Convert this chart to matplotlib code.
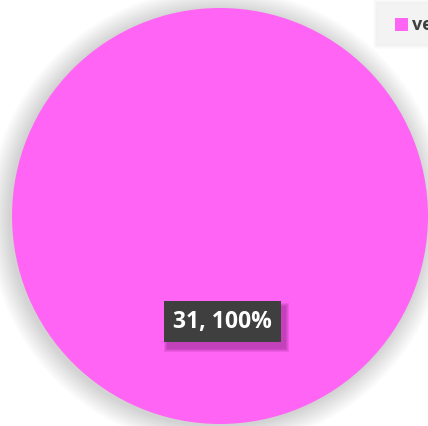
import matplotlib
matplotlib.use("Agg")
import matplotlib.pyplot as plt
from matplotlib.patches import Circle, Rectangle

categories = ["ve"]
values = [31]
colors = ["#FF64F5"]

W, H = 428, 427
fig = plt.figure(figsize=(W / 100, H / 100), dpi=100)
ax = fig.add_axes([0, 0, 1, 1])

cx, cy, r = 220, H - 217, 208

wedges, _ = ax.pie(values, colors=colors, radius=r, center=(cx, cy), startangle=90,
                   counterclock=False, wedgeprops=dict(linewidth=0))
for w in wedges:
    w.set_zorder(2)

ax.set_xlim(0, W)
ax.set_ylim(0, H)
ax.set_aspect("equal")
ax.axis("off")

# soft shadow around the pie
for i in range(22, 0, -1):
    ax.add_patch(Circle((cx - 2, cy - 2), r + i, color="#000000", alpha=0.009, lw=0, zorder=0))

total = sum(values)
label = f"{values[0]}, {values[0] / total * 100:.0f}%"
# label shadow
for i in range(4, 0, -1):
    ax.add_patch(Rectangle((168 - i, H - 349 - i), 117 + 2 * i, 41 + 2 * i, color="#5a0a55",
                           alpha=0.10, lw=0, zorder=3))
ax.add_patch(Rectangle((164, H - 343), 117, 41, color="#3F3F3F", lw=0, zorder=4))
ax.text(222.5, H - 322, label, ha="center", va="center", color="white", fontsize=16.5,
        fontweight="bold", family="Open Sans", zorder=5)

# legend box
for i in range(5, 0, -1):
    ax.add_patch(Rectangle((378 - i, H - 45 - i), 60 + 2 * i, 40 + 2 * i, color="#000000",
                           alpha=0.012, lw=0, zorder=6))
ax.add_patch(Rectangle((378, H - 45), 60, 40, color="#F3F3F3", lw=0, zorder=7))
ax.add_patch(Rectangle((395, H - 32), 13, 13, color=colors[0], lw=0, zorder=8))
ax.text(412, H - 25.5, categories[0], ha="left", va="center", fontsize=13, fontweight="bold",
        color="#404040", family="Open Sans", zorder=8)

fig.savefig("out.png", dpi=100)
